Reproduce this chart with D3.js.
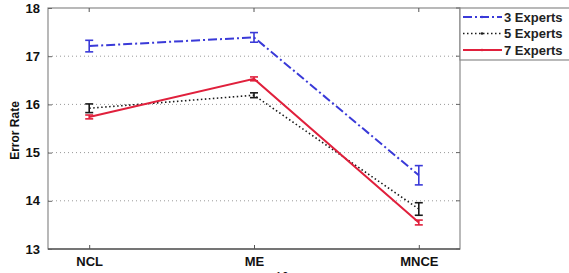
<!DOCTYPE html>
<html lang="en">
<head>
<meta charset="UTF-8">
<title>Error Rate</title>
<script src="https://d3js.org/d3.v7.min.js"></script>
<style>
  body { margin: 0; background: #fff; }
  svg { display: block; }
  .tick-lbl { font-family: "Liberation Sans", Arial, sans-serif; font-weight: bold; font-size: 13px; fill: #111; }
  .leg { font-family: "Liberation Sans", Arial, sans-serif; font-weight: bold; font-size: 13px; fill: #222; }
</style>
</head>
<body>
<svg width="569" height="273"></svg>
<script>
// data
const categories = ["NCL", "ME", "MNCE"];
const yTicks = [13, 14, 15, 16, 17, 18];
const seriesNames = ["3 Experts", "5 Experts", "7 Experts"];
const expert3 = [17.21, 17.39, 14.53];
const expert3Err = [0.12, 0.1, 0.2];
const expert5 = [15.92, 16.19, 13.83];
const expert5Err = [0.09, 0.05, 0.13];
const expert7 = [15.74, 16.53, 13.55];
const expert7Err = [0.04, 0.04, 0.05];

const series = [
  { name: seriesNames[0], vals: expert3, err: expert3Err, color: "#3a3ad8", dash: "9,3,2,3", width: 2 },
  { name: seriesNames[1], vals: expert5, err: expert5Err, color: "#1a1a1a", dash: "1.5,2.5", width: 1.6 },
  { name: seriesNames[2], vals: expert7, err: expert7Err, color: "#e0203c", dash: null, width: 2 }
];

const svg = d3.select("svg");
const pLeft = 48, pRight = 460, pTop = 8, pBottom = 249;

const x = d3.scaleLinear().domain([0.75, 3.25]).range([pLeft, pRight]);
const y = d3.scaleLinear().domain([13, 18]).range([pBottom, pTop]);

// grid
svg.append("g").selectAll("line")
  .data(yTicks.filter(t => t > 13 && t < 18))
  .enter().append("line")
  .attr("x1", pLeft).attr("x2", pRight)
  .attr("y1", d => y(d)).attr("y2", d => y(d))
  .attr("stroke", "#999").attr("stroke-width", 1)
  .attr("stroke-dasharray", "1,3");

// frame
svg.append("rect")
  .attr("x", pLeft).attr("y", pTop)
  .attr("width", pRight - pLeft).attr("height", pBottom - pTop)
  .attr("fill", "none").attr("stroke", "#8a8a8a").attr("stroke-width", 1.2);
svg.append("line")
  .attr("x1", pLeft).attr("x2", pRight).attr("y1", pBottom).attr("y2", pBottom)
  .attr("stroke", "#333").attr("stroke-width", 1.2);

// y axis
const yAxis = d3.axisLeft(y).tickValues(yTicks).tickSize(-4).tickPadding(8).tickFormat(d3.format("d"));
const gy = svg.append("g").attr("transform", `translate(${pLeft},0)`).call(yAxis);
gy.select(".domain").remove();
gy.selectAll(".tick line").attr("stroke", "#666");
gy.selectAll(".tick text").attr("class", "tick-lbl").attr("fill", null);

// right ticks
svg.append("g").selectAll("line").data(yTicks).enter().append("line")
  .attr("x1", pRight - 4).attr("x2", pRight)
  .attr("y1", d => y(d)).attr("y2", d => y(d))
  .attr("stroke", "#666");

// x axis
const xAxis = d3.axisBottom(x).tickValues([1, 2, 3]).tickSize(-4).tickPadding(8)
  .tickFormat(d => categories[d - 1]);
const gx = svg.append("g").attr("transform", `translate(0,${pBottom})`).call(xAxis);
gx.select(".domain").remove();
gx.selectAll(".tick line").attr("stroke", "#555");
gx.selectAll(".tick text").attr("class", "tick-lbl").attr("fill", null);

// top ticks
svg.append("g").selectAll("line").data([1, 2, 3]).enter().append("line")
  .attr("x1", d => x(d)).attr("x2", d => x(d))
  .attr("y1", pTop).attr("y2", pTop + 4)
  .attr("stroke", "#555");

// y label
svg.append("text")
  .attr("class", "tick-lbl")
  .attr("transform", `translate(19,${(pTop + pBottom) / 2 + 2}) rotate(-90)`)
  .attr("text-anchor", "middle")
  .style("font-size", "12px")
  .text("Error Rate");

// lines and error bars
const line = d3.line().x((d, i) => x(i + 1)).y(d => y(d));
series.forEach(s => {
  svg.append("path")
    .datum(s.vals)
    .attr("d", line)
    .attr("fill", "none")
    .attr("stroke", s.color)
    .attr("stroke-width", s.width)
    .attr("stroke-dasharray", s.dash);

  const eb = svg.append("g").selectAll("g").data(s.vals).enter().append("g");
  eb.append("line")
    .attr("x1", (d, i) => x(i + 1)).attr("x2", (d, i) => x(i + 1))
    .attr("y1", (d, i) => y(d - s.err[i])).attr("y2", (d, i) => y(d + s.err[i]))
    .attr("stroke", s.color).attr("stroke-width", 1.6);
  [-1, 1].forEach(sign => {
    eb.append("line")
      .attr("x1", (d, i) => x(i + 1) - 4).attr("x2", (d, i) => x(i + 1) + 4)
      .attr("y1", (d, i) => y(d + sign * s.err[i])).attr("y2", (d, i) => y(d + sign * s.err[i]))
      .attr("stroke", s.color).attr("stroke-width", 1.6);
  });
});

// legend
const leg = svg.append("g");
leg.append("rect")
  .attr("x", pRight).attr("y", pTop)
  .attr("width", 120).attr("height", 52)
  .attr("fill", "#fff").attr("stroke", "#8a8a8a").attr("stroke-width", 1.2);
series.forEach((s, i) => {
  const ly = 17 + i * 16.5;
  leg.append("line")
    .attr("x1", 463).attr("x2", 502).attr("y1", ly).attr("y2", ly)
    .attr("stroke", s.color).attr("stroke-width", s.width)
    .attr("stroke-dasharray", s.dash);
  leg.append("circle").attr("cx", 482).attr("cy", ly).attr("r", 1.3).attr("fill", s.color);
  leg.append("text").attr("class", "leg")
    .attr("x", 504).attr("y", ly + 4.5)
    .text(s.name);
});

// clipped caption at bottom
svg.append("text").attr("class", "tick-lbl")
  .attr("x", 282).attr("y", 281).attr("text-anchor", "middle")
  .style("font-weight", "normal").style("font-size", "12px")
  .text("10");
</script>
</body>
</html>
